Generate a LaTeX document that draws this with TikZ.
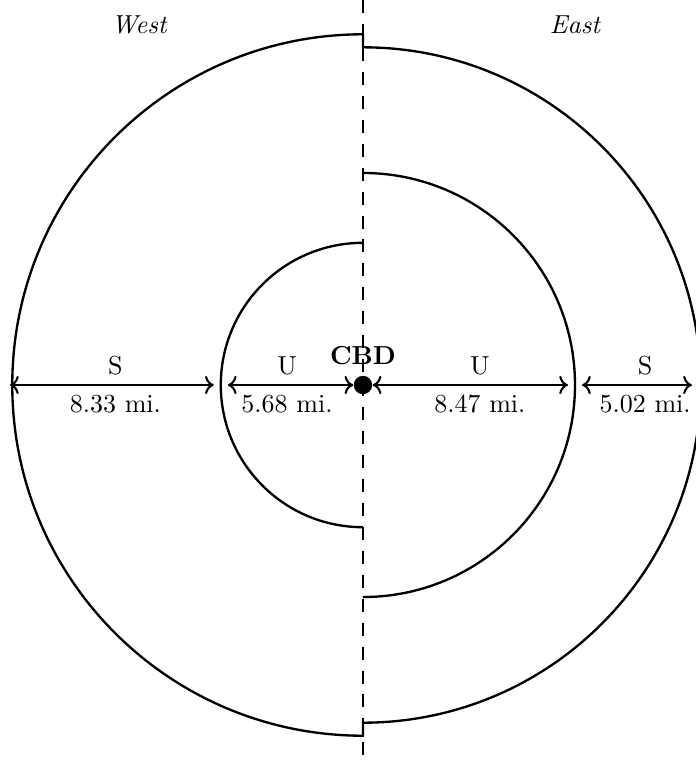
\documentclass[tikz,border=0pt]{standalone}
\usepackage{tikz}
\usetikzlibrary{positioning, arrows.meta}

\begin{document}
\begin{tikzpicture}[
    x=0.338cm, y=0.338cm,
    ring/.style={line width=0.9pt},
    divider/.style={line width=0.9pt, dash pattern=on 5pt off 4.2pt},
    span/.style={<->, thick},
    side/.style={font=\itshape},
  ]
    \useasboundingbox (-14.50,-15.10) rectangle (13.30,15.38);
    \clip (-14.50,-15.10) rectangle (13.30,15.38);

    % Divider
    \draw[divider] (0,15.38) -- (0,-15.10);

    % Rings
    \draw[ring] (0,14.01) arc[start angle=90, end angle=270, radius=14.01]
        -- (0,-13.49) arc[start angle=-90, end angle=90, radius=13.49] -- cycle;
    \draw[ring] (0,5.68) arc[start angle=90, end angle=270, radius=5.68];
    \draw[ring] (0,-8.47) arc[start angle=-90, end angle=90, radius=8.47];

    % Sides
    \node[side] (west) at (-8.95,14.38) {West};
    \node[side] (east) at (8.47,14.38) {East};

    % Centre
    \node[circle, fill, inner sep=2.5pt] (cbd) at (0,0) {};
    \node[above=0.5pt of cbd, font=\bfseries] (cbdlabel) {CBD};

    \coordinate (wo) at (-14.10,0);
    \coordinate (wi) at (-5.68,0);
    \coordinate (ei) at (8.47,0);
    \coordinate (eo) at (13.14,0);

    % Distances
    \draw[span, shorten >=2.7pt] (wo) -- (wi)
        node[midway, above] {S} node[midway, below] {8.33 mi.};
    \draw[span, shorten <=2.7pt] (wi) -- (cbd)
        node[midway, above] {U} node[midway, below] {5.68 mi.};
    \draw[span, shorten >=2.7pt] (cbd) -- (ei)
        node[pos=0.53, above] {U} node[pos=0.53, below] {8.47 mi.};
    \draw[span, shorten <=2.7pt] (ei) -- (eo)
        node[pos=0.6, above] {S} node[pos=0.6, below] {5.02 mi.};
  \end{tikzpicture}
\end{document}
